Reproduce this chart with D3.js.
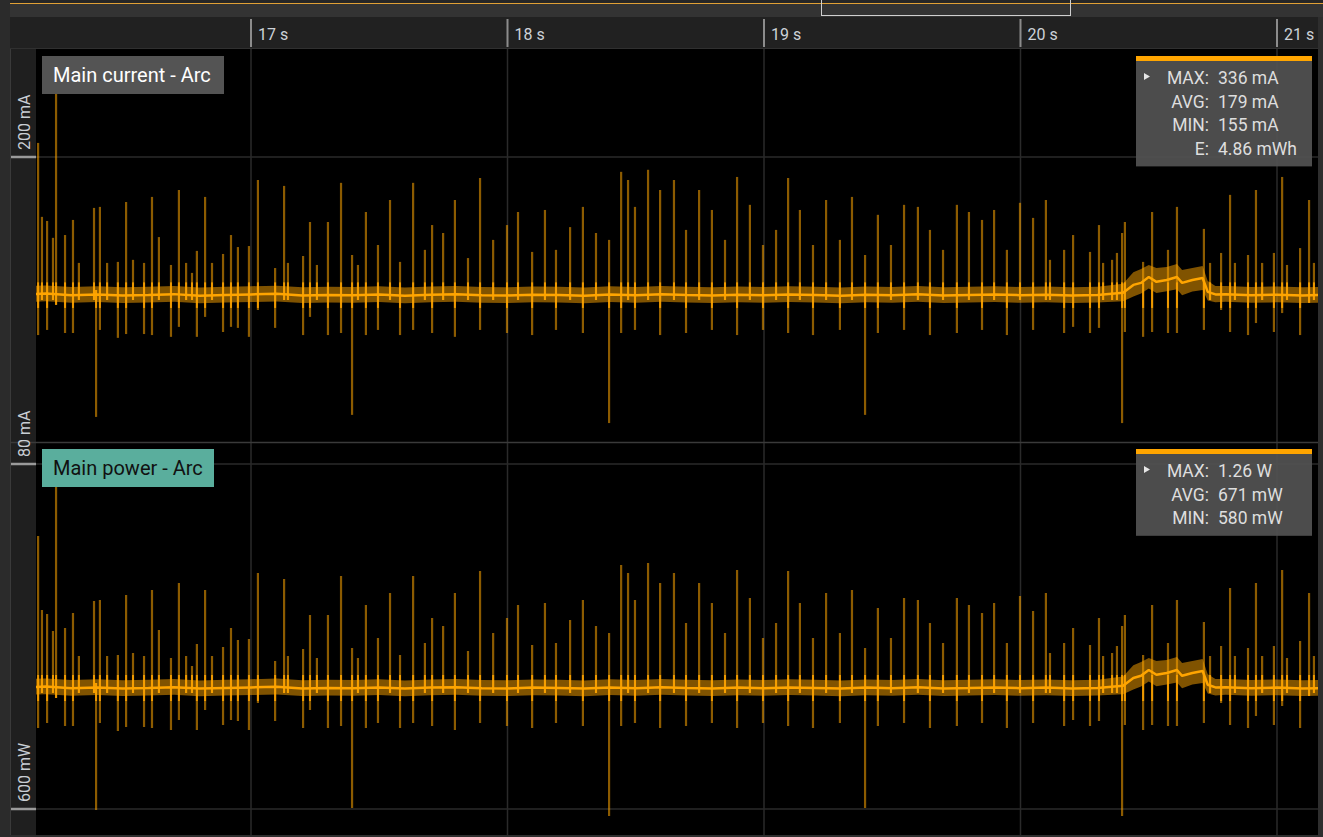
<!DOCTYPE html>
<html><head><meta charset="utf-8">
<script src="https://cdn.jsdelivr.net/npm/d3@7"></script>
<style>
html,body{margin:0;padding:0;background:#2b2b2b;overflow:hidden}
svg{display:block}
text{font-family:Roboto,"Open Sans",sans-serif}
</style></head><body>
<svg id="chart" width="1323" height="837"></svg>
<script>
// ---------- data ----------
const timeTicks = [17, 18, 19, 20, 21];
const currentTicks = [80, 200];
const powerTicks = [600];
const seriesNames = ["Main current - Arc", "Main power - Arc"];
const statLabels = ["MAX:", "AVG:", "MIN:", "E:"];
const currentStats = ["336 mA", "179 mA", "155 mA", "4.86 mWh"];
const powerStats = ["1.26 W", "671 mW", "580 mW"];

const spikeTimes = [16.170,16.185,16.205,16.228,16.240,16.275,16.306,16.329,16.388,16.396,16.411,16.439,16.481,16.513,16.540,16.583,16.614,16.641,16.688,16.719,16.747,16.770,16.789,16.821,16.848,16.891,16.922,16.949,16.992,17.027,17.094,17.129,17.144,17.203,17.230,17.257,17.300,17.351,17.394,17.417,17.448,17.495,17.542,17.581,17.632,17.678,17.706,17.749,17.795,17.846,17.893,17.944,17.998,18.041,18.096,18.146,18.189,18.244,18.294,18.345,18.396,18.443,18.470,18.497,18.548,18.595,18.649,18.696,18.747,18.797,18.848,18.895,18.945,18.996,19.047,19.094,19.140,19.191,19.242,19.296,19.343,19.394,19.444,19.495,19.546,19.600,19.647,19.698,19.752,19.799,19.850,19.897,19.947,19.998,20.049,20.099,20.115,20.170,20.205,20.271,20.306,20.322,20.357,20.376,20.396,20.407,20.478,20.513,20.575,20.610,20.715,20.739,20.782,20.817,20.836,20.887,20.918,20.942,20.988,21.020,21.039,21.090,21.125,21.144];

const currentMax = [205.5,176.6,175.0,168.4,228.2,169.5,175.4,158.6,180.1,148.0,180.5,158.6,159.0,182.4,159.8,158.6,184.4,168.7,157.8,187.1,158.6,154.7,163.3,184.4,158.6,162.1,169.5,164.8,165.2,191.0,156.6,188.7,158.6,161.3,174.6,157.8,174.6,189.9,161.7,157.8,178.5,165.6,183.2,159.0,189.9,163.7,173.4,170.3,183.2,160.5,191.8,167.6,173.4,178.5,162.9,179.3,163.7,172.6,180.5,170.3,167.6,194.2,191.0,180.5,195.0,187.1,191.0,171.5,187.1,179.3,167.6,192.2,181.3,165.6,171.5,191.8,179.3,165.6,183.2,167.6,184.4,161.7,177.4,165.6,181.3,180.5,171.5,163.7,181.3,178.5,175.4,179.3,163.7,182.1,176.2,183.2,159.8,163.7,169.5,162.9,173.4,158.6,159.8,162.5,170.3,174.6,159.0,178.5,163.7,180.5,171.9,158.6,162.5,185.2,158.6,161.7,187.1,158.6,162.5,192.2,157.8,164.4,183.2,158.6];
const currentMin = [130.4,144.1,132.4,144.1,142.2,131.2,131.2,144.1,144.1,98.4,132.4,144.1,129.3,130.8,144.1,130.8,130.4,144.1,129.7,133.6,144.1,144.1,129.7,137.5,144.1,131.6,133.6,133.2,129.7,140.2,133.2,144.1,144.1,130.4,137.5,144.1,130.4,131.2,99.2,144.1,130.4,132.4,144.1,130.4,132.4,144.1,131.2,144.1,129.7,144.1,132.4,144.1,131.2,144.1,130.4,144.1,132.4,144.1,131.2,144.1,96.0,131.2,144.1,132.4,144.1,130.4,144.1,131.2,144.1,132.4,144.1,130.4,144.1,132.4,144.1,131.2,144.1,130.4,144.1,132.4,144.1,99.2,131.2,144.1,132.4,144.1,130.4,144.1,131.2,144.1,132.4,144.1,130.4,144.1,132.4,144.1,144.1,131.2,133.6,131.2,133.2,144.1,144.1,144.1,96.0,131.6,129.7,131.6,131.2,131.2,132.4,144.1,140.2,131.6,144.1,130.4,135.1,144.1,131.6,139.0,144.1,130.4,143.0,144.1];
const powerMax = [736.5,699.5,697.5,689,765.5,690.5,698,676.5,704,663,704.5,676.5,677,707,678,676.5,709.5,689.5,675.5,713,676.5,671.5,682.5,709.5,676.5,681,690.5,684.5,685,718,674,715,676.5,680,697,675.5,697,716.5,680.5,675.5,702,685.5,708,677,716.5,683,695.5,691.5,708,679,719,688,695.5,702,682,703,683,694.5,704.5,691.5,688,722,718,704.5,723,713,718,693,713,703,688,719.5,705.5,685.5,693,719,703,685.5,708,688,709.5,680.5,700.5,685.5,705.5,704.5,693,683,705.5,702,698,703,683,706.5,699,708,678,683,690.5,682,695.5,676.5,678,681.5,691.5,697,677,702,683,704.5,693.5,676.5,681.5,710.5,676.5,680.5,713,676.5,681.5,719.5,675.5,684,708,676.5];
const powerMin = [640.5,658,643,658,655.5,641.5,641.5,658,658,599.5,643,658,639,641,658,641,640.5,658,639.5,644.5,658,658,639.5,649.5,658,642,644.5,644,639.5,653,644,658,658,640.5,649.5,658,640.5,641.5,600.5,658,640.5,643,658,640.5,643,658,641.5,658,639.5,658,643,658,641.5,658,640.5,658,643,658,641.5,658,596.5,641.5,658,643,658,640.5,658,641.5,658,643,658,640.5,658,643,658,641.5,658,640.5,658,643,658,600.5,641.5,658,643,658,640.5,658,641.5,658,643,658,640.5,658,643,658,658,641.5,644.5,641.5,644,658,658,658,596.5,642,639.5,642,641.5,641.5,643,658,653,642,658,640.5,646.5,658,642,651.5,658,640.5,656.5,658];

const baseTimes = [16.1,16.2,16.3,16.4,16.5,16.6,16.7,16.8,16.9,17.0,17.1,17.2,17.3,17.4,17.5,17.6,17.7,17.8,17.9,18.0,18.1,18.2,18.3,18.4,18.5,18.6,18.7,18.8,18.9,19.0,19.1,19.2,19.3,19.4,19.5,19.6,19.7,19.8,19.9,20.0,20.1,20.2,20.3,20.40,20.44,20.47,20.50,20.53,20.57,20.61,20.63,20.67,20.71,20.73,20.76,20.8,20.9,21.0,21.1,21.2];
const currentBaseMid = [146.2,146.6,146.0,146.3,145.9,146.1,146.4,145.8,146.1,146.3,146.5,145.9,146.1,146.0,146.3,145.8,146.2,146.4,146.0,145.9,146.2,146.1,145.8,146.3,146.0,146.4,146.1,145.9,146.2,146.0,146.3,146.1,145.8,146.2,146.0,146.4,145.9,146.1,146.3,146.0,146.2,145.9,146.1,146.9,150.0,150.8,153.1,151.2,151.9,153.1,150.8,151.9,152.7,147.3,146.3,146.4,146.0,146.2,145.9,146.1];
const currentBaseHigh = [149.4,149.8,149.2,149.5,149.1,149.3,149.6,149.0,149.3,149.5,149.7,149.1,149.3,149.2,149.5,149.0,149.4,149.6,149.2,149.1,149.4,149.3,149.0,149.5,149.2,149.6,149.3,149.1,149.4,149.2,149.5,149.3,149.0,149.4,149.2,149.6,149.1,149.3,149.5,149.2,149.4,149.1,149.3,150.5,155.0,156.2,157.8,156.6,157.0,158.2,155.8,156.6,157.4,151.5,149.6,149.6,149.2,149.4,149.1,149.3];
const currentBaseLow = [143.2,143.6,143.0,143.3,142.9,143.1,143.4,142.8,143.1,143.3,143.5,142.9,143.1,143.0,143.3,142.8,143.2,143.4,143.0,142.9,143.2,143.1,142.8,143.3,143.0,143.4,143.1,142.9,143.2,143.0,143.3,143.1,142.8,143.2,143.0,143.4,142.9,143.1,143.3,143.0,143.2,142.9,143.1,143.6,145.5,146.6,148.6,146.8,147.5,148.3,146.0,147.4,148.0,143.9,143.2,143.4,143.0,143.2,142.9,143.1];
const powerBaseMid = [660.7,661.2,660.4,660.8,660.3,660.5,660.9,660.2,660.5,660.8,661.1,660.3,660.5,660.4,660.8,660.2,660.7,660.9,660.4,660.3,660.7,660.5,660.2,660.8,660.4,660.9,660.5,660.3,660.7,660.4,660.8,660.5,660.2,660.7,660.4,660.9,660.3,660.5,660.8,660.4,660.7,660.3,660.5,661.6,665.5,666.6,669.5,667.1,668.0,669.5,666.6,668.0,669.0,662.1,660.8,660.9,660.4,660.7,660.3,660.5];
const powerBaseHigh = [664.8,665.3,664.5,664.9,664.4,664.6,665.0,664.3,664.6,664.9,665.2,664.4,664.6,664.5,664.9,664.3,664.8,665.0,664.5,664.4,664.8,664.6,664.3,664.9,664.5,665.0,664.6,664.4,664.8,664.5,664.9,664.6,664.3,664.8,664.5,665.0,664.4,664.6,664.9,664.5,664.8,664.4,664.6,666.2,671.9,673.5,675.5,674.0,674.5,676.0,673.0,674.0,675.0,667.4,665.0,665.0,664.5,664.8,664.4,664.6];
const powerBaseLow = [656.9,657.4,656.6,657.0,656.5,656.7,657.1,656.4,656.7,657.0,657.3,656.5,656.7,656.6,657.0,656.4,656.9,657.1,656.6,656.5,656.9,656.7,656.4,657.0,656.6,657.1,656.7,656.5,656.9,656.6,657.0,656.7,656.4,656.9,656.6,657.1,656.5,656.7,657.0,656.6,656.9,656.5,656.7,657.4,659.8,661.2,663.7,661.4,662.3,663.3,660.4,662.2,663.0,657.7,656.8,657.1,656.6,656.9,656.5,656.7];

// ---------- layout ----------
const W = 1323, H = 837;
const L = 36, R = 1318, T = 49, MID = 442, B = 835;
const ORANGE = "#ffa500";
const svg = d3.select("#chart");

const x = d3.scaleLinear().domain([17, 21]).range([251, 1277]);
const yCur = d3.scaleLinear().domain([80, 200]).range([464, 157]);
const yPow = d3.scaleLinear().domain([600, 700]).range([809, 609]);

// backgrounds
svg.append("rect").attr("x",0).attr("y",0).attr("width",W).attr("height",H).attr("fill","#2b2b2b");
svg.append("rect").attr("x",10).attr("y",0).attr("width",W-10).attr("height",17).attr("fill","#333");
svg.append("rect").attr("x",10).attr("y",0).attr("width",W-10).attr("height",3).attr("fill","#262626");
svg.append("line").attr("x1",10).attr("x2",W).attr("y1",3.5).attr("y2",3.5).attr("stroke","#e0a035").attr("stroke-width",1);
svg.append("rect").attr("x",821.5).attr("y",-1).attr("width",249).attr("height",16.5).attr("fill","none").attr("stroke","#cfcfcf").attr("stroke-width",1);
svg.append("rect").attr("x",10).attr("y",17).attr("width",W-10).attr("height",32).attr("fill","#212121");
svg.append("line").attr("x1",10).attr("x2",W).attr("y1",48.5).attr("y2",48.5).attr("stroke","#303030");
svg.append("rect").attr("x",10).attr("y",49).attr("width",1).attr("height",H-49).attr("fill","#3a3a3a");
svg.append("rect").attr("x",11).attr("y",49).attr("width",L-11).attr("height",H-49).attr("fill","#1f1f1f");
svg.append("rect").attr("x",L).attr("y",T).attr("width",R-L).attr("height",B-T).attr("fill","#000");
svg.append("rect").attr("x",R).attr("y",17).attr("width",W-R).attr("height",H-17).attr("fill","#2e2e2e");
svg.append("rect").attr("x",10).attr("y",B).attr("width",W-10).attr("height",H-B).attr("fill","#2e2e2e");

// time axis
const tg = svg.append("g");
tg.selectAll("line").data(timeTicks).join("line")
  .attr("x1",d=>x(d)).attr("x2",d=>x(d)).attr("y1",19).attr("y2",47)
  .attr("stroke","#8c8c8c").attr("stroke-width",2);
tg.selectAll("text").data(timeTicks).join("text")
  .attr("x",d=>x(d)+7).attr("y",40).attr("font-size",16).attr("fill","#cdd2d8")
  .text(d=>d+" s");

// grid
const grid = svg.append("g");
grid.selectAll("line.v").data(timeTicks).join("line").attr("class","v")
  .attr("x1",d=>x(d)).attr("x2",d=>x(d)).attr("y1",T).attr("y2",B)
  .attr("stroke","#2a2a2a").attr("stroke-width",1.5);
grid.selectAll("line.hc").data(currentTicks).join("line").attr("class","hc")
  .attr("x1",L).attr("x2",R).attr("y1",d=>yCur(d)).attr("y2",d=>yCur(d))
  .attr("stroke","#2a2a2a").attr("stroke-width",1.5);
grid.selectAll("line.hp").data(powerTicks).join("line").attr("class","hp")
  .attr("x1",L).attr("x2",R).attr("y1",d=>yPow(d)).attr("y2",d=>yPow(d))
  .attr("stroke","#2a2a2a").attr("stroke-width",1.5);
svg.append("line").attr("x1",11).attr("x2",R).attr("y1",MID+0.5).attr("y2",MID+0.5).attr("stroke","#3a3a3a").attr("stroke-width",1.5);

// clip paths
const defs = svg.append("defs");
defs.append("clipPath").attr("id","clipTop").append("rect").attr("x",L).attr("y",T).attr("width",R-L).attr("height",MID-T);
defs.append("clipPath").attr("id","clipBot").append("rect").attr("x",L).attr("y",MID).attr("width",R-L).attr("height",B-MID);

function drawSeries(clipId, y, maxArr, minArr, hiArr, loArr, midArr, coreLo, coreHi) {
  const g = svg.append("g").attr("clip-path", `url(#${clipId})`);
  const spikes = spikeTimes.map((t,i)=>({t, hi:maxArr[i], lo:minArr[i]}));
  g.selectAll("line.sp").data(spikes).join("line").attr("class","sp")
    .attr("x1",d=>x(d.t)).attr("x2",d=>x(d.t)).attr("y1",d=>y(d.hi)).attr("y2",d=>y(d.lo))
    .attr("stroke",ORANGE).attr("stroke-opacity",0.55).attr("stroke-width",2.2);
  // brighter core of each spike near the baseline
  g.selectAll("line.core").data(spikes).join("line").attr("class","core")
    .attr("x1",d=>x(d.t)).attr("x2",d=>x(d.t))
    .attr("y1",d=>y(Math.min(d.hi, coreHi))).attr("y2",d=>y(Math.max(d.lo, coreLo)))
    .attr("stroke",ORANGE).attr("stroke-opacity",0.85).attr("stroke-width",2);
  const band = baseTimes.map((t,i)=>({t, hi:hiArr[i], lo:loArr[i], mid:midArr[i]}));
  g.append("path").datum(band)
    .attr("d", d3.area().x(d=>x(d.t)).y0(d=>y(d.lo)).y1(d=>y(d.hi)))
    .attr("fill",ORANGE).attr("fill-opacity",0.5);
  g.append("path").datum(band)
    .attr("d", d3.line().x(d=>x(d.t)).y(d=>y(d.mid)))
    .attr("fill","none").attr("stroke",ORANGE).attr("stroke-width",2.5).attr("stroke-linejoin","bevel");
}
drawSeries("clipTop", yCur, currentMax, currentMin, currentBaseHigh, currentBaseLow, currentBaseMid, 141, 151);
drawSeries("clipBot", yPow, powerMax, powerMin, powerBaseHigh, powerBaseLow, powerBaseMid, 654, 667);

// y axis ticks & labels
function yAxis(ticks, y, unit) {
  const g = svg.append("g");
  g.selectAll("line").data(ticks).join("line")
    .attr("x1",11).attr("x2",L).attr("y1",d=>y(d)).attr("y2",d=>y(d))
    .attr("stroke","#9a9a9a").attr("stroke-width",2.5);
  g.selectAll("text").data(ticks).join("text")
    .attr("transform",d=>`translate(30,${y(d)-7}) rotate(-90)`)
    .attr("font-size",16).attr("fill","#c9ced4").attr("text-anchor","start")
    .text(d=>d+" "+unit);
}
yAxis(currentTicks, yCur, "mA");
yAxis(powerTicks, yPow, "mW");

// series labels
function seriesLabel(top, w, name, fill, color) {
  svg.append("rect").attr("x",42).attr("y",top).attr("width",w).attr("height",38).attr("fill",fill);
  svg.append("text").attr("x",53).attr("y",top+26).attr("font-size",20).attr("fill",color).text(name);
}
seriesLabel(56, 182, seriesNames[0], "#545454", "#ffffff");
seriesLabel(449, 172, seriesNames[1], "#5aae9d", "#111111");

// stats boxes
function statsBox(top, values) {
  const h = 16 + values.length*23.6;
  const g = svg.append("g");
  g.append("rect").attr("x",1136).attr("y",top).attr("width",176).attr("height",h).attr("fill","#525252").attr("fill-opacity",0.93);
  g.append("rect").attr("x",1136).attr("y",top).attr("width",176).attr("height",5).attr("fill",ORANGE);
  g.append("path").attr("d",`M1144,${top+17}L1150,${top+20.5}L1144,${top+24}Z`).attr("fill","#e6e6e6");
  g.selectAll("text.l").data(values).join("text").attr("class","l")
    .attr("x",1209).attr("y",(d,i)=>top+28+i*23.6).attr("text-anchor","end")
    .attr("font-size",17.5).attr("fill","#dedede").text((d,i)=>statLabels[i]);
  g.selectAll("text.v").data(values).join("text").attr("class","v")
    .attr("x",1218).attr("y",(d,i)=>top+28+i*23.6)
    .attr("font-size",17.5).attr("fill","#dedede").text(d=>d);
}
statsBox(56, currentStats);
statsBox(449, powerStats);
</script>
</body></html>
